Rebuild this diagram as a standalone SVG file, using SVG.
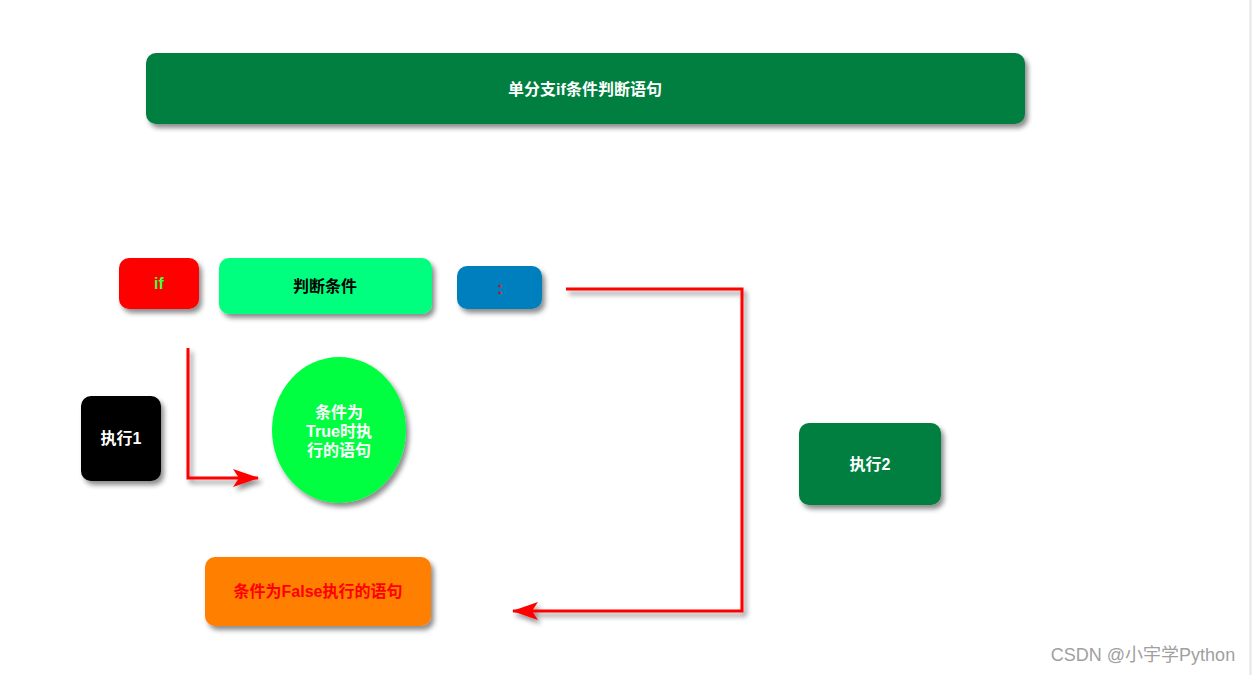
<svg xmlns="http://www.w3.org/2000/svg" width="1253" height="675" viewBox="0 0 1253 675">
<defs>
<filter id="sh" x="-20%" y="-20%" width="150%" height="160%">
<feDropShadow dx="3" dy="4" stdDeviation="2.5" flood-color="#000" flood-opacity="0.45"/>
</filter>
<marker id="ah" markerWidth="12" markerHeight="10" refX="11" refY="5" orient="auto" markerUnits="userSpaceOnUse" viewBox="0 0 12 10">
<path d="M0,0 L12,5 L0,10 L3,5 Z" fill="#FF0000"/>
</marker>
<marker id="ah2" markerWidth="26" markerHeight="18" refX="25" refY="9" orient="auto" markerUnits="userSpaceOnUse" viewBox="0 0 26 18">
<path d="M0,0 L26,9 L0,18 L6,9 Z" fill="#FF0000"/>
</marker>
</defs>
<style>
text{font-family:"Liberation Sans","Noto Sans CJK SC",sans-serif;font-weight:bold;font-size:16px;text-anchor:middle;dominant-baseline:central}
.box{filter:url(#sh)}
.conn{fill:none;stroke:#FF0000;stroke-width:3;filter:url(#sh)}
</style>
<rect width="1253" height="675" fill="#fff"/>
<line x1="1250.5" y1="0" x2="1250.5" y2="675" stroke="#e6e6e6" stroke-width="2"/>
<g id="title"><rect class="box" x="146" y="53" width="879" height="71" rx="10" fill="#007F3F"/><text x="585" y="89" fill="#fff">单分支if条件判断语句</text></g>
<g id="if"><rect class="box" x="119" y="258" width="80" height="51" rx="10" fill="#FF0000"/><text x="159" y="283" fill="#3FFF3F">if</text></g>
<g id="cond"><rect class="box" x="219" y="258" width="213" height="56" rx="10" fill="#00FF7F"/><text x="325" y="286" fill="#000">判断条件</text></g>
<g id="colon"><rect class="box" x="457" y="266" width="85" height="43" rx="10" fill="#007FBF"/><text x="500" y="288" fill="#FF0000">:</text></g>
<g id="exec1"><rect class="box" x="81" y="396" width="80" height="85" rx="10" fill="#000"/><text x="121" y="438" fill="#fff">执行1</text></g>
<g id="truebody"><ellipse class="box" cx="339" cy="430" rx="67" ry="73" fill="#00FF40"/><text fill="#fff"><tspan x="339" y="412">条件为</tspan><tspan x="339" y="431">True时执</tspan><tspan x="339" y="450">行的语句</tspan></text></g>
<g id="exec2"><rect class="box" x="799" y="423" width="142" height="82" rx="10" fill="#007F3F"/><text x="870" y="464" fill="#fff">执行2</text></g>
<g id="falsebody"><rect class="box" x="205" y="557" width="226" height="69" rx="10" fill="#FF7F00"/><text x="318" y="591" fill="#FF0000">条件为False执行的语句</text></g>
<g id="connectors">
<polyline class="conn" points="188,348 188,478 258,478" marker-end="url(#ah2)"/>
<polyline class="conn" points="566,289 742,289 742,611 513,611" marker-end="url(#ah2)"/>
</g>
<text x="1143" y="655" style="font-weight:normal;font-size:18px;fill:#a0a0a0">CSDN @小宇学Python</text>
</svg>
